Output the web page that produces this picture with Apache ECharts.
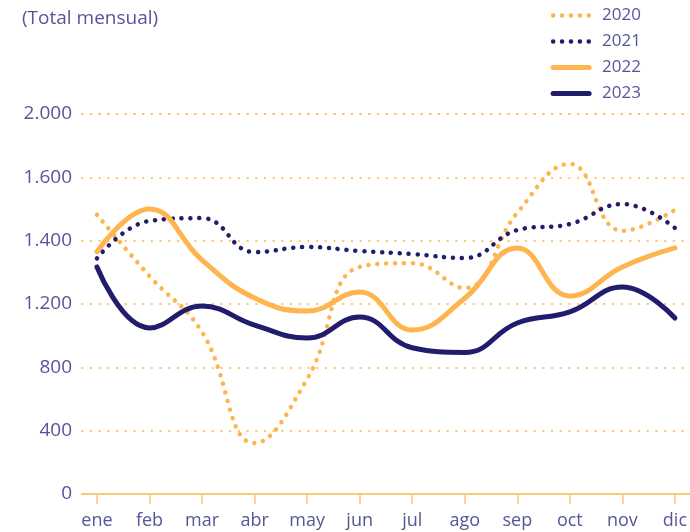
<!DOCTYPE html>
<html>
<head>
<meta charset="utf-8">
<script src="https://cdn.jsdelivr.net/npm/echarts@6/dist/echarts.min.js"></script>
<style>
  html, body { margin: 0; padding: 0; background: #fff; }
  #chart { width: 690px; height: 532px; }
</style>
</head>
<body>
<div id="chart"></div>
<script>
const months = ['ene', 'feb', 'mar', 'abr', 'may', 'jun', 'jul', 'ago', 'sep', 'oct', 'nov', 'dic'];
const yTickLabels = ['0', '400', '800', '1.200', '1.400', '1.600', '2.000'];
const seriesNames = ['2020', '2021', '2022', '2023'];

const s2020 = [1470, 1147, 852, 268, 605, 1195, 1215, 1084, 1480, 1737, 1385, 1495];
const s2021 = [1240, 1437, 1452, 1273, 1300, 1279, 1263, 1242, 1389, 1421, 1526, 1400];
const s2022 = [1275, 1500, 1231, 1031, 963, 1063, 863, 1030, 1295, 1042, 1195, 1295];
const s2023 = [1195, 874, 989, 889, 821, 931, 770, 745, 900, 958, 1089, 926];

const orange = '#ffb54f';
const navy = '#221c6c';
const textColor = '#55559a';
const font = 'Open Sans';

const chart = echarts.init(document.getElementById('chart'));

function pts(arr) {
  return arr.map((v, i) => [i, v]);
}

function styleFor(color, dotted) {
  return dotted
    ? { color: color, width: 4.5, type: [0.1, 8.8], cap: 'round' }
    : { color: color, width: 5, cap: 'round' };
}

function lineSeries(name, arr, color, dotted) {
  return {
    name: name,
    type: 'line',
    data: pts(arr),
    smooth: 0.45,
    symbol: 'none',
    lineStyle: styleFor(color, dotted),
    itemStyle: { color: color }
  };
}

const looks = [[orange, true], [navy, true], [orange, false], [navy, false]];

chart.setOption({
  animation: false,
  textStyle: { fontFamily: font },
  title: {
    text: '(Total mensual)',
    left: 17,
    top: 4,
    textStyle: { color: textColor, fontSize: 19, fontWeight: 'normal', fontFamily: font }
  },
  legend: {
    orient: 'vertical',
    right: 44,
    top: 2,
    itemWidth: 36,
    itemHeight: 14,
    itemGap: 9,
    itemStyle: { opacity: 0 },
    textStyle: { color: textColor, fontSize: 17, fontFamily: font, padding: [0, 0, 0, 8] },
    data: seriesNames.map((n, i) => ({ name: n, lineStyle: styleFor(looks[i][0], looks[i][1]) }))
  },
  grid: { left: 82, right: 0, top: 114, bottom: 38, containLabel: false },
  xAxis: {
    type: 'value',
    min: -0.285,
    max: 11.285,
    axisLine: { lineStyle: { color: '#fdc77c', width: 2 } },
    axisTick: {
      customValues: months.map((m, i) => i),
      length: 10,
      lineStyle: { color: '#fdc77c', width: 1.5 }
    },
    axisLabel: {
      customValues: months.map((m, i) => i),
      formatter: v => months[Math.round(v)],
      color: textColor,
      fontSize: 18,
      margin: 18,
      fontFamily: font
    },
    splitLine: { show: false }
  },
  yAxis: {
    type: 'value',
    min: 0,
    max: 2000,
    interval: 2000 / 6,
    axisLine: { show: false },
    axisTick: { show: false },
    axisLabel: {
      formatter: v => yTickLabels[Math.round(v * 6 / 2000)],
      color: textColor,
      fontSize: 19,
      margin: 10,
      fontFamily: font
    },
    splitLine: {
      lineStyle: { color: '#ffc36b', width: 2, type: [0.5, 8.2], cap: 'round' }
    }
  },
  series: [
    lineSeries('2020', s2020, orange, true),
    lineSeries('2021', s2021, navy, true),
    lineSeries('2022', s2022, orange, false),
    lineSeries('2023', s2023, navy, false)
  ]
});
</script>
</body>
</html>
